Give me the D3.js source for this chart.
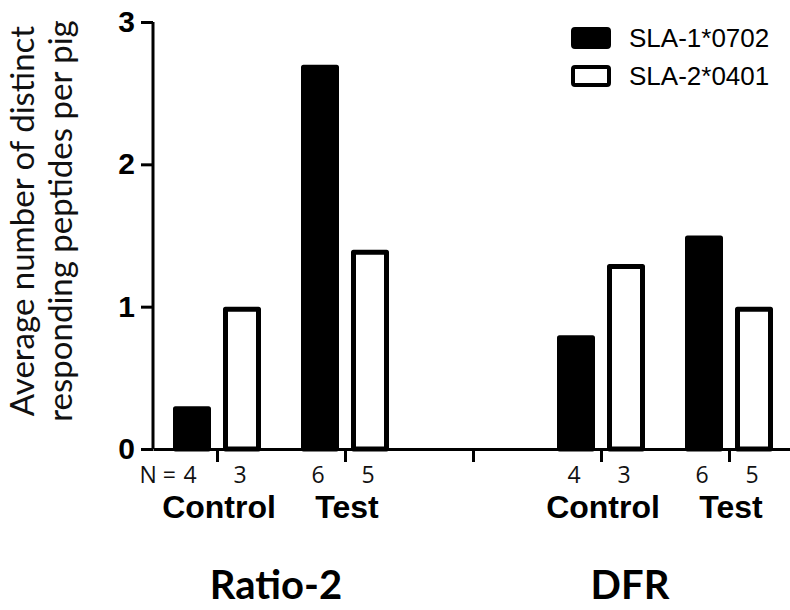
<!DOCTYPE html>
<html>
<head>
<meta charset="utf-8">
<script src="https://cdn.jsdelivr.net/npm/d3@7"></script>
<style>
  body { margin: 0; background: #fff; }
  svg { display: block; }
  .tick text { font-family: "Liberation Sans", Arial, sans-serif; font-weight: bold; }
</style>
</head>
<body>
<div id="chart"><svg></svg></div>
<script>
const width = 790, height = 610;

// data
const panels = ["Ratio-2", "DFR"];
const groups = ["Control", "Test", "Control", "Test"];
const groupKeys = ["r-control", "r-test", "gap", "d-control", "d-test"];
const series = ["SLA-1*0702", "SLA-2*0401"];
const sla1 = [0.3, 2.7, 0.8, 1.5];
const sla2 = [1.0, 1.4, 1.3, 1.0];
const n1 = [4, 6, 4, 6];
const n2 = [3, 5, 3, 5];
const yTicks = [0, 1, 2, 3];

const barKeys = groupKeys.filter(k => k !== "gap");
const bars = [];
barKeys.forEach((k, i) => {
    bars.push({ key: k, s: series[0], v: sla1[i], n: n1[i] });
    bars.push({ key: k, s: series[1], v: sla2[i], n: n2[i] });
});

const svg = d3.select("#chart svg")
    .attr("width", width)
    .attr("height", height);

const x = d3.scalePoint()
    .domain(groupKeys)
    .range([153, 793])
    .padding(0.5);

const x1 = d3.scaleBand()
    .domain(series)
    .range([-44, 44])
    .paddingInner(0.24);

const y = d3.scaleLinear()
    .domain([0, 3])
    .range([449, 22]);

const sw = 5;

// bars
svg.selectAll("rect.bar")
    .data(bars)
    .enter().append("rect")
    .attr("class", "bar")
    .attr("x", d => x(d.key) + x1(d.s) + sw / 2)
    .attr("y", d => y(d.v) + sw / 2)
    .attr("width", x1.bandwidth() - sw)
    .attr("height", d => y(0) - y(d.v) - sw / 2)
    .attr("fill", d => d.s === series[0] ? "#000" : "#fff")
    .attr("stroke", "#000")
    .attr("stroke-width", sw)
    .attr("stroke-linejoin", "round");

// y axis
const yAxis = svg.append("g")
    .attr("transform", `translate(153,0)`)
    .call(d3.axisLeft(y).tickValues(yTicks).tickFormat(d3.format("d")).tickSize(12).tickSizeOuter(0).tickPadding(6));
yAxis.select(".domain").attr("stroke-width", 3).attr("d", `M0,${y(3)}V${y(0)}`);
yAxis.selectAll(".tick line").attr("stroke-width", 3);
yAxis.selectAll(".tick text").attr("font-size", 30).attr("fill", "#000");

// x axis
const xAxis = svg.append("g")
    .attr("transform", `translate(0,${y(0)})`)
    .call(d3.axisBottom(x).tickSize(13).tickSizeOuter(0).tickFormat(""));
xAxis.select(".domain").attr("stroke-width", 3);
xAxis.selectAll(".tick line").attr("stroke-width", 3);

// N labels
svg.selectAll("text.n")
    .data(bars)
    .enter().append("text")
    .attr("class", "n")
    .attr("x", d => x(d.key) + x1(d.s) + x1.bandwidth() / 2 - 2)
    .attr("y", 483)
    .attr("text-anchor", "middle")
    .style("font-family", "'Open Sans', sans-serif")
    .style("font-size", "23px")
    .style("fill", "#111")
    .text(d => d.n);

svg.append("text")
    .attr("x", x("r-control") + x1(series[0]) + x1.bandwidth() / 2 - 16)
    .attr("y", 483)
    .attr("text-anchor", "end")
    .style("font-family", "'Open Sans', sans-serif")
    .style("font-size", "23px")
    .style("fill", "#111")
    .text("N =");

// group labels
svg.selectAll("text.group")
    .data(barKeys)
    .enter().append("text")
    .attr("class", "group")
    .attr("x", d => x(d) + 2)
    .attr("y", 518)
    .attr("text-anchor", "middle")
    .style("font-family", "'Liberation Sans', Arial, sans-serif")
    .style("font-weight", "bold")
    .style("font-size", "32px")
    .text((d, i) => groups[i]);

// panel labels
const panelPos = [
    (x("r-control") + x("r-test")) / 2 - 5,
    (x("d-control") + x("d-test")) / 2 - 35
];
svg.selectAll("text.panel")
    .data(panels)
    .enter().append("text")
    .attr("class", "panel")
    .attr("x", (d, i) => panelPos[i])
    .attr("y", 599)
    .attr("text-anchor", "middle")
    .style("font-family", "Lato, sans-serif")
    .style("font-weight", "bold")
    .style("font-size", "40px")
    .text(d => d);

// y title
const yTitle = svg.append("text")
    .attr("transform", `translate(0,221) rotate(-90)`)
    .attr("text-anchor", "middle")
    .style("font-family", "Lato, sans-serif")
    .style("font-size", "33px")
    .style("fill", "#111");
yTitle.append("tspan").attr("x", 0).attr("y", 34).text("Average number of distinct");
yTitle.append("tspan").attr("x", 0).attr("y", 72).text("responding peptides per pig");

// legend
const legend = svg.selectAll(".legend")
    .data(series)
    .enter().append("g")
    .attr("class", "legend")
    .attr("transform", (d, i) => `translate(571,${27 + i * 38})`);

legend.append("rect")
    .attr("x", 2)
    .attr("y", 2)
    .attr("width", 36)
    .attr("height", 18)
    .attr("rx", 2)
    .attr("fill", (d, i) => i === 0 ? "#000" : "#fff")
    .attr("stroke", "#000")
    .attr("stroke-width", 4);

legend.append("text")
    .attr("x", 58)
    .attr("y", 20)
    .style("font-family", "'Liberation Sans', Arial, sans-serif")
    .style("font-size", "26px")
    .text(d => d);
</script>
</body>
</html>
